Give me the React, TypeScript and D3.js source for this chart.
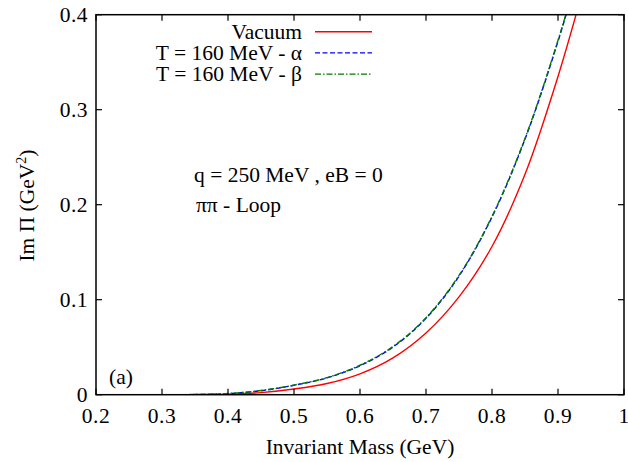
import React from "react";
import * as d3 from "d3";

const masses = [0.2, 0.25, 0.3, 0.35, 0.4, 0.45, 0.5, 0.55, 0.6, 0.65, 0.7, 0.75, 0.8, 0.85, 0.9, 0.95];
const vacuum = [0, 0, 0, 0.0001, 0.0006, 0.0022, 0.006, 0.0118, 0.022, 0.0388, 0.065, 0.103, 0.156, 0.232, 0.335, 0.457];
const tAlpha = [0, 0, 0, 0.0002, 0.0011, 0.0042, 0.0099, 0.0177, 0.0305, 0.0502, 0.0804, 0.1248, 0.187, 0.269, 0.372, 0.49];
const tBeta = [0, 0, 0, 0.0002, 0.0012, 0.0044, 0.0101, 0.018, 0.031, 0.0507, 0.081, 0.1255, 0.1877, 0.2698, 0.373, 0.491];

const xTicks = [0.2, 0.3, 0.4, 0.5, 0.6, 0.7, 0.8, 0.9, 1.0];
const xTickLabels = ["0.2", "0.3", "0.4", "0.5", "0.6", "0.7", "0.8", "0.9", "1"];
const yTicks = [0, 0.1, 0.2, 0.3, 0.4];
const yTickLabels = ["0", "0.1", "0.2", "0.3", "0.4"];

const seriesNames = ["Vacuum", "T = 160 MeV - \u03b1", "T = 160 MeV - \u03b2"];
const seriesColors = ["#ff0000", "#0000ff", "#007a00"];
const seriesDash = ["none", "5,2.5", "6,2,1.5,2"];

const W = 628, H = 462;
const L = 96, R = 624, T = 14.7, B = 394.7;
const FONT = "'Liberation Serif', 'Times New Roman', 'DejaVu Serif', serif";
const txt: React.CSSProperties = { fontFamily: FONT };
const FS = 21.5;

export default function App() {
  const x = d3.scaleLinear().domain([0.2, 1.0]).range([L, R]);
  const y = d3.scaleLinear().domain([0, 0.4]).range([B, T]);
  const allSeries = [vacuum, tAlpha, tBeta];
  const line = d3
    .line<[number, number]>()
    .x((d) => x(d[0]))
    .y((d) => y(d[1]))
    .curve(d3.curveCatmullRom.alpha(0.5));
  const tick = 6;
  return (
    <svg width={W} height={H} style={{ position: "absolute", left: 0, top: 0, background: "#fff", fontFamily: FONT }}>
      <defs>
        <clipPath id="plotclip">
          <rect x={L} y={T} width={R - L} height={B - T} />
        </clipPath>
      </defs>
      <rect x={0} y={0} width={W} height={H} fill="#fff" />
      <g clipPath="url(#plotclip)">
        {allSeries.map((s, i) => (
          <path
            key={i}
            d={line(masses.map((m, j) => [m, s[j]] as [number, number])) || ""}
            fill="none"
            stroke={seriesColors[i]}
            strokeWidth={1.4}
            strokeDasharray={seriesDash[i]}
          />
        ))}
      </g>
      <rect x={L} y={T} width={R - L} height={B - T} fill="none" stroke="#000" strokeWidth={1.5} />
      {xTicks.map((t, i) => (
        <g key={"x" + i}>
          <line x1={x(t)} x2={x(t)} y1={B} y2={B - tick} stroke="#000" strokeWidth={1.2} />
          <line x1={x(t)} x2={x(t)} y1={T} y2={T + tick} stroke="#000" strokeWidth={1.2} />
          <text style={txt} x={x(t)} y={423} fontSize={FS} letterSpacing={0.5} textAnchor="middle">
            {xTickLabels[i]}
          </text>
        </g>
      ))}
      {yTicks.map((t, i) => (
        <g key={"y" + i}>
          <line x1={L} x2={L + tick} y1={y(t)} y2={y(t)} stroke="#000" strokeWidth={1.2} />
          <line x1={R} x2={R - tick} y1={y(t)} y2={y(t)} stroke="#000" strokeWidth={1.2} />
          <text style={txt} x={88} y={y(t) + 7} fontSize={FS} letterSpacing={0.5} textAnchor="end">
            {yTickLabels[i]}
          </text>
        </g>
      ))}
      <text style={txt} x={360} y={454} fontSize={FS} textAnchor="middle">
        Invariant Mass (GeV)
      </text>
      <text style={txt} transform="translate(34,205.5) rotate(-90)" fontSize={FS} textAnchor="middle">
        Im {"\u03a0"} (GeV<tspan dy={-8} fontSize={14}>2</tspan>
        <tspan dy={8}>)</tspan>
      </text>
      {seriesNames.map((n, i) => {
        const ly = 31.7 + i * 21.2;
        return (
          <g key={"l" + i}>
            <text style={txt} x={302} y={ly + 7} fontSize={FS} textAnchor="end">
              {n}
            </text>
            <line x1={315} x2={372} y1={ly} y2={ly} stroke={seriesColors[i]} strokeWidth={1.4} strokeDasharray={seriesDash[i]} />
          </g>
        );
      })}
      <text style={txt} x={194} y={181.5} fontSize={FS}>
        q = 250 MeV , eB = 0
      </text>
      <text style={txt} x={196} y={212} fontSize={FS}>
        {"\u03c0\u03c0"} - Loop
      </text>
      <text style={txt} x={109} y={384} fontSize={FS}>
        (a)
      </text>
    </svg>
  );
}
